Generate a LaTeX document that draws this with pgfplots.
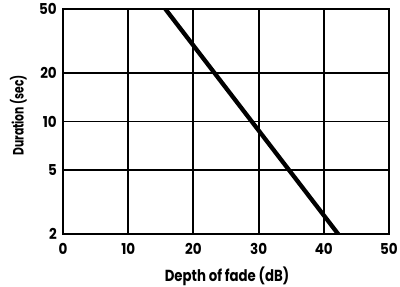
\documentclass[border=0pt]{standalone}
\usepackage{pgfplots}
\pgfplotsset{compat=1.18}
\usepackage{fontspec}
\setmainfont{Poppins}[BoldFont={* Bold}]
\newfontfamily\tickfont{Poppins}[UprightFont={* Bold}, FakeStretch=0.9]
\newfontfamily\xlabfont{Poppins}[UprightFont={* Bold}, FakeStretch=0.83]
\newfontfamily\ylabfont{Poppins}[UprightFont={* Bold}, FakeStretch=0.72]
\begin{document}
\begin{tikzpicture}
\useasboundingbox (-63pt,-53pt) rectangle (337pt,234pt);
\begin{axis}[
  at={(0pt,0pt)}, anchor=south west,
  width=326pt, height=225pt, scale only axis,
  xmin=0, xmax=50, ymode=log, ymin=2, ymax=50,
  xtick={0,10,20,30,40,50},
  ytick={2,5,10,20,50},
  yticklabels={2,5,10,20,50},
  /pgf/number format/assume math mode=true,
  tick label style={font=\tickfont\fontsize{15}{15}\selectfont, text=black, inner sep=0pt},
  xticklabel style={anchor=north, yshift=-9pt},
  yticklabel style={anchor=east, xshift=-6pt},
  xlabel={Depth of fade (dB)},
  ylabel={Duration (sec)},
  xlabel style={font=\xlabfont\fontsize{16}{17}\selectfont, at={(axis description cs:0.5,0)}, anchor=base, yshift=-47.5pt, xshift=1pt, inner sep=0pt},
  ylabel style={font=\ylabfont\fontsize{15}{16}\selectfont, at={(axis description cs:-0.137,0.527)}, anchor=center, inner sep=0pt},
  grid=major,
  major grid style={black, line width=1.9pt},
  axis line style={black, line width=1.9pt},
  major tick length=0pt,
  minor tick num=0,
]
\addplot[black, line width=4.3pt, line cap=butt] coordinates {(15.7,50) (42.2,2)};
\end{axis}
\end{tikzpicture}
\end{document}
